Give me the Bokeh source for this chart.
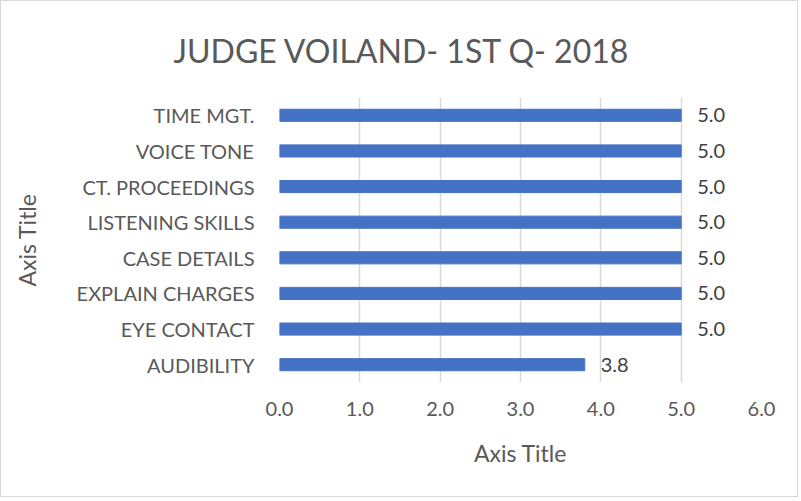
from bokeh.plotting import figure
from bokeh.models import ColumnDataSource, FixedTicker, Range1d
from bokeh.core.properties import value
from bokeh.embed import file_html
from bokeh.resources import INLINE

categories = ["AUDIBILITY", "EYE CONTACT", "EXPLAIN CHARGES", "CASE DETAILS",
              "LISTENING SKILLS", "CT. PROCEEDINGS", "VOICE TONE", "TIME MGT."]
scores = [3.8, 5.0, 5.0, 5.0, 5.0, 5.0, 5.0, 5.0]
x_ticks = [0, 1, 2, 3, 4, 5, 6]
title_text = "JUDGE VOILAND- 1ST Q- 2018"

FONT = "Lato"
GREY = "#595959"

pos = [i + 0.5 for i in range(len(categories))]
src = ColumnDataSource(dict(y=pos, v=scores, lab=[f"{s:.1f}" for s in scores]))

p = figure(width=798, height=497, output_backend="svg", toolbar_location=None,
           x_range=Range1d(0, 6), y_range=Range1d(0, len(categories)),
           min_border_left=278, min_border_right=38, min_border_top=96, min_border_bottom=116,
           title=title_text)
p.styles = {"border": "1px solid #d9d9d9"}
p.outline_line_color = None

p.title.align = "left"
p.title.offset = -106
p.title.text_font = FONT
p.title.text_font_size = "32px"
p.title.text_font_style = "normal"
p.title.text_color = GREY
p.title.standoff = 52
p.title.vertical_align = "top"

p.hbar(y="y", right="v", left=0, height=0.34, color="#4472C4", source=src)

p.text(x="v", y="y", text="lab", source=src, x_offset=16,
       text_baseline="middle", text_font=value(FONT), text_font_size="20px",
       text_color="#404040")

p.xaxis.ticker = FixedTicker(ticks=x_ticks)
p.xaxis.major_label_overrides = {t: f"{t:.1f}" for t in x_ticks}
p.yaxis.ticker = FixedTicker(ticks=pos)
p.yaxis.major_label_overrides = {y: c for y, c in zip(pos, categories)}

for ax in (p.xaxis[0], p.yaxis[0]):
    ax.axis_line_color = None
    ax.major_tick_line_color = None
    ax.minor_tick_line_color = None
    ax.major_label_text_font = FONT
    ax.major_label_text_font_size = "20px"
    ax.major_label_text_color = GREY
    ax.axis_label = "Axis Title"
    ax.axis_label_text_font = FONT
    ax.axis_label_text_font_size = "23px"
    ax.axis_label_text_font_style = "normal"
    ax.axis_label_text_color = GREY

p.xaxis.major_label_standoff = 13
p.yaxis.major_label_standoff = 19
p.xaxis.axis_label_standoff = 20
p.yaxis.axis_label_standoff = 33

p.xgrid.ticker = FixedTicker(ticks=x_ticks)
p.xgrid.grid_line_color = "#d9d9d9"
p.xgrid.grid_line_width = 1.5
p.ygrid.grid_line_color = None

open("out.html", "w").write(file_html(p, INLINE))
